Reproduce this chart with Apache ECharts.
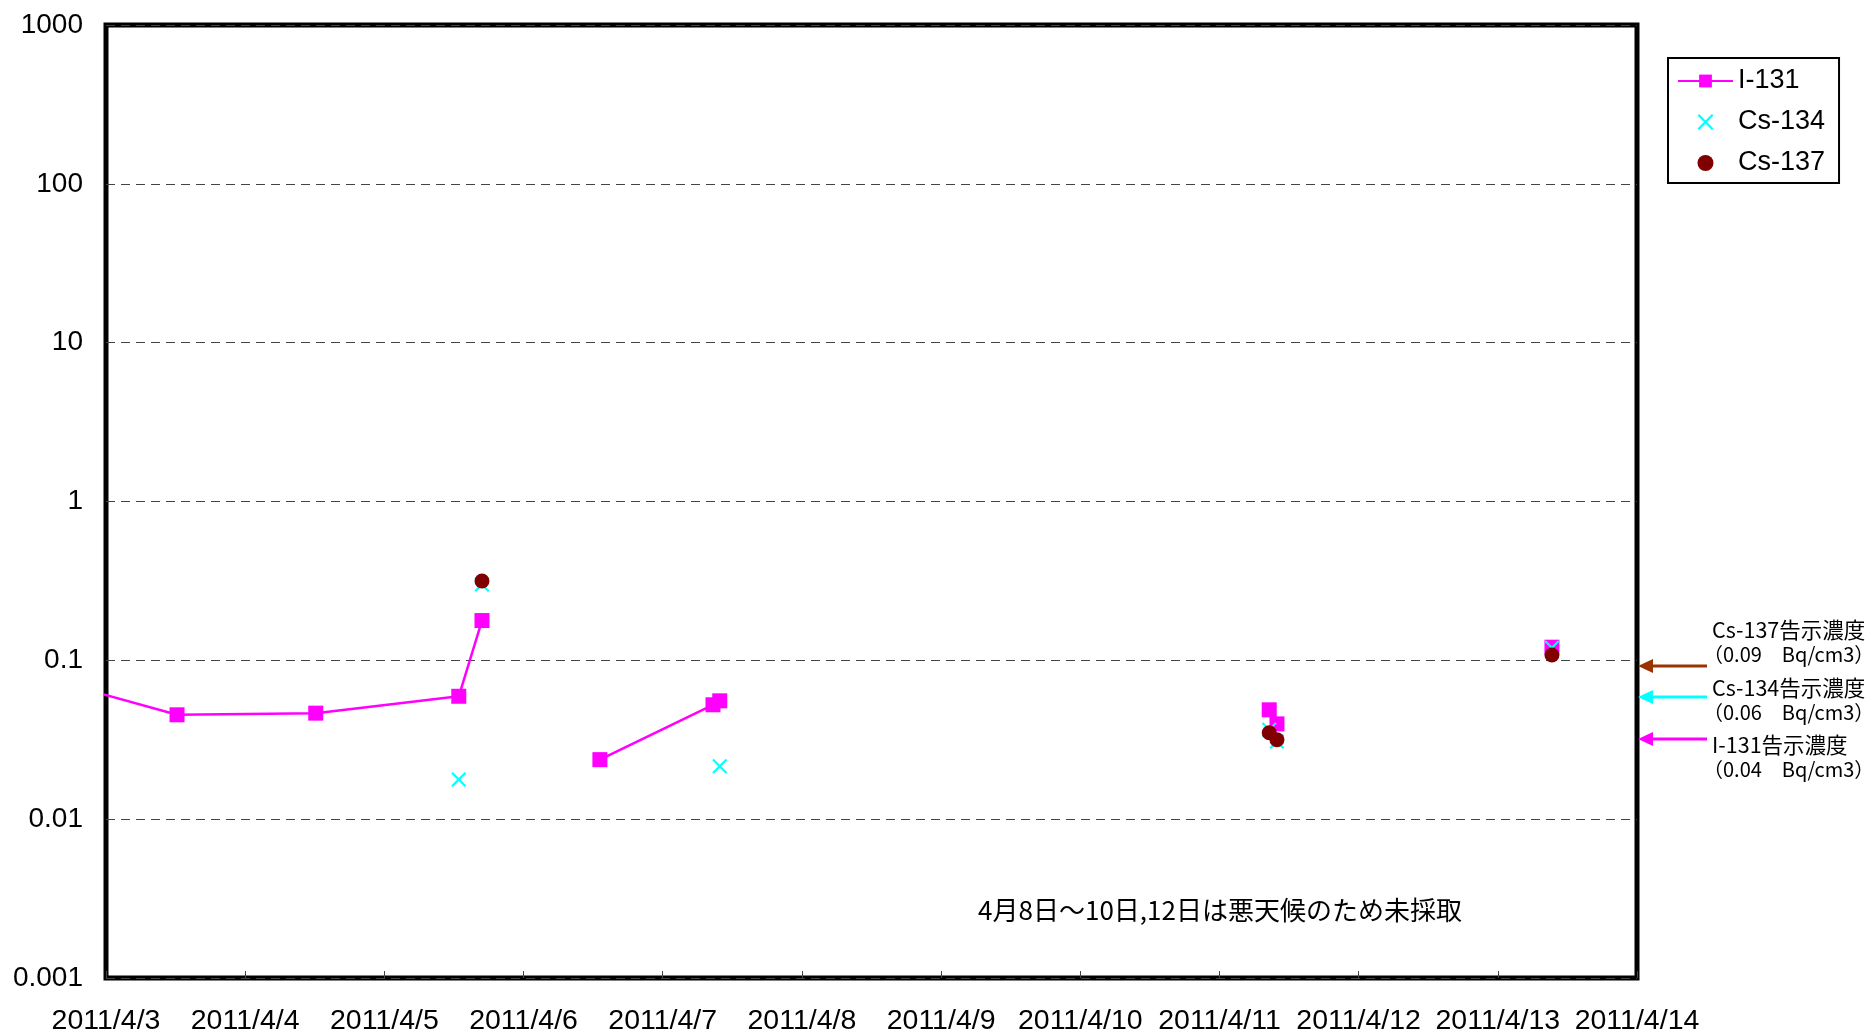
<!DOCTYPE html>
<html>
<head>
<meta charset="utf-8">
<script src="https://cdn.jsdelivr.net/npm/echarts@6/dist/echarts.min.js"></script>
<style>
html, body { margin: 0; padding: 0; background: #fff; }
#main { width: 1867px; height: 1036px; }
</style>
</head>
<body>
<div id="main"></div>
<script>
// x軸ラベル（4/3 0:00 からの日数 0..11）
var xLabels = ['2011/4/3', '2011/4/4', '2011/4/5', '2011/4/6', '2011/4/7', '2011/4/8',
    '2011/4/9', '2011/4/10', '2011/4/11', '2011/4/12', '2011/4/13', '2011/4/14'];

// 採取時刻 (月/日 時:分)、null は線の切れ目
var i131Times = ['4/2 12:00', '4/3 12:15', '4/4 12:10', '4/5 12:50', '4/5 16:50', null,
    '4/6 13:10', '4/7 8:40', '4/7 9:50', null, '4/11 8:35', null, '4/11 9:55', null, '4/13 9:20'];
var i131Values = [0.08, 0.0454, 0.0465, 0.0594, 0.178, null,
    0.0237, 0.0525, 0.0556, null, 0.0488, null, 0.0398, null, 0.121];

var cs134Times = ['4/5 12:50', '4/5 16:50', '4/7 9:50', '4/11 8:35', '4/11 9:55', '4/13 9:20'];
var cs134Values = [0.0178, 0.30, 0.0215, 0.0365, 0.0308, 0.12];

var cs137Times = ['4/5 16:50', '4/11 8:35', '4/11 9:55', '4/13 9:20'];
var cs137Values = [0.316, 0.035, 0.0316, 0.108];

// 告示濃度の注記
var limitNames = ['Cs-137告示濃度', 'Cs-134告示濃度', 'I-131告示濃度'];
var limitTexts = ['（0.09　Bq/cm3）', '（0.06　Bq/cm3）', '（0.04　Bq/cm3）'];
var limitColors = ['#993300', '#00ffff', '#ff00ff'];

var note = '4月8日～10日,12日は悪天候のため未採取';

function dayOf(s) {
    var p = s.split(' ');
    var md = p[0].split('/');
    var hm = p[1].split(':');
    return (+md[1] - 3) + (+hm[0] + hm[1] / 60) / 24;
}

function pairs(times, values) {
    var out = [];
    for (var i = 0; i < times.length; i++) {
        if (times[i] === null) out.push(null);
        else out.push([dayOf(times[i]), values[i]]);
    }
    return out;
}

var crossPath = 'path://M0,1L1,0L10,9L9,10Z M9,0L10,1L1,10L0,9Z';
var latin = '"Liberation Sans", Arial, sans-serif';
var jp = '"Noto Sans CJK JP", sans-serif';

var chart = echarts.init(document.getElementById('main'));

// 右側の矢印と注記
var graphics = [];
var arrowY = [666, 697, 739];
var textY = [630, 688, 745];
for (var k = 0; k < 3; k++) {
    graphics.push({
        type: 'line', z: 100,
        shape: { x1: 1652, y1: arrowY[k], x2: 1707, y2: arrowY[k] },
        style: { stroke: limitColors[k], lineWidth: 3 }
    });
    graphics.push({
        type: 'polygon', z: 100,
        shape: { points: [[1638, arrowY[k]], [1653, arrowY[k] - 7], [1653, arrowY[k] + 7]] },
        style: { fill: limitColors[k] }
    });
    graphics.push({
        type: 'text', z: 100,
        x: 1712, y: textY[k],
        style: {
            text: limitNames[k], font: '21.5px ' + jp, fill: '#000',
            textVerticalAlign: 'middle'
        }
    });
    graphics.push({
        type: 'text', z: 100,
        x: 1703, y: textY[k] + 24,
        style: {
            text: limitTexts[k], font: '20px ' + jp, fill: '#000',
            textVerticalAlign: 'middle'
        }
    });
}
graphics.push({
    type: 'text', z: 100,
    x: 1220, y: 910,
    style: {
        text: note, font: '26px ' + jp, fill: '#000',
        textAlign: 'center', textVerticalAlign: 'middle'
    }
});

chart.setOption({
    animation: false,
    backgroundColor: '#fff',
    grid: {
        left: 106, right: 230, top: 25, bottom: 56,
        show: true, borderColor: '#000', borderWidth: 5, backgroundColor: 'transparent',
        containLabel: false
    },
    legend: {
        orient: 'vertical',
        left: 1668, top: 58,
        backgroundColor: '#fff',
        borderColor: '#000', borderWidth: 2, borderRadius: 0,
        padding: [9, 14, 6, 9],
        itemWidth: 55, itemHeight: 16, itemGap: 13,
        textStyle: { fontFamily: latin, fontSize: 27, color: '#000', lineHeight: 28 },
        data: ['I-131', 'Cs-134', 'Cs-137']
    },
    xAxis: {
        type: 'value',
        min: 0, max: 11, interval: 1,
        axisLine: { show: false },
        axisTick: { show: true, inside: true, length: 7, lineStyle: { color: '#444', width: 1 } },
        splitLine: { show: false },
        axisLabel: {
            margin: 29, fontFamily: latin, fontSize: 28.5, color: '#000',
            formatter: function (v) { return xLabels[v]; }
        }
    },
    yAxis: {
        type: 'log', logBase: 10,
        min: 0.001, max: 1000,
        axisLine: { show: false },
        axisTick: { show: false },
        splitLine: { show: true, lineStyle: { color: '#444', width: 1, type: [9, 6] } },
        axisLabel: {
            margin: 23, fontFamily: latin, fontSize: 28, color: '#000',
            formatter: function (v) { return String(Number(v.toPrecision(1))); }
        }
    },
    series: [
        {
            name: 'I-131', type: 'line',
            data: pairs(i131Times, i131Values),
            connectNulls: false, clip: true,
            symbol: 'rect', symbolSize: 15,
            itemStyle: { color: '#ff00ff' },
            lineStyle: { color: '#ff00ff', width: 2.5 },
            z: 2
        },
        {
            name: 'Cs-134', type: 'scatter',
            data: pairs(cs134Times, cs134Values),
            symbol: crossPath, symbolSize: 15, symbolKeepAspect: true,
            itemStyle: { color: '#00ffff', opacity: 1 },
            z: 3
        },
        {
            name: 'Cs-137', type: 'scatter',
            data: pairs(cs137Times, cs137Values),
            symbol: 'circle', symbolSize: 15,
            itemStyle: { color: '#800000', opacity: 1 },
            z: 4
        }
    ],
    graphic: graphics
});
</script>
</body>
</html>
